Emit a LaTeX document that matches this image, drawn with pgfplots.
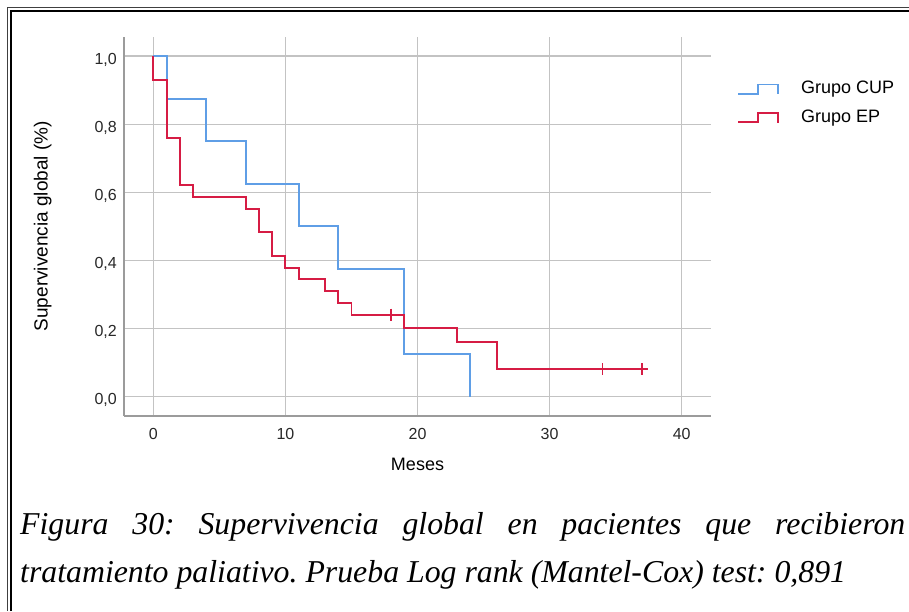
\documentclass[border=0pt]{standalone}
\usepackage{pgfplots}
\pgfplotsset{compat=1.18}
\usepackage{fontspec}
\setmainfont{Liberation Sans}
\newfontfamily\capfont{Liberation Serif}
\definecolor{cupblue}{RGB}{95,158,230}
\definecolor{epred}{RGB}{214,28,68}
\definecolor{gridgray}{RGB}{195,195,195}
\definecolor{axgray}{RGB}{155,155,155}
\definecolor{txtgray}{RGB}{40,40,40}
\begin{document}
\frenchspacing
\begin{tikzpicture}[x=1pt,y=1pt]
\useasboundingbox (0,0) rectangle (909,611);
\fill[white] (0,0) rectangle (909,611);
\draw[line width=1pt, black!75] (7.3,0) -- (7.3,603.7) -- (909,603.7);
\draw[line width=2pt, black] (11,0) -- (11,600) -- (909,600);
\begin{axis}[
  at={(124.3pt,195.3pt)}, anchor=south west,
  scale only axis, width=586.4pt, height=379pt,
  xmin=-2.2, xmax=42.2, ymin=-0.056, ymax=1.057,
  axis lines*=left,
  axis line style={draw=axgray, line width=2pt},
  grid=major, grid style={draw=gridgray, line width=1.4pt},
  major tick length=0pt,
  xtick={0,10,20,30,40}, ytick={0,0.2,0.4,0.6,0.8,1},
  /pgf/number format/assume math mode=true,
  tick label style={font=\fontsize{16}{19}\selectfont, text=txtgray},
  yticklabel style={/pgf/number format/fixed, /pgf/number format/precision=1,
    /pgf/number format/fixed zerofill, /pgf/number format/use comma,
    xshift=-4pt, yshift=-3.5pt},
  xticklabel style={yshift=-9pt},
  every axis x label/.style={at={(axis description cs:0.5,0)}, anchor=center, yshift=-48.3pt, font=\fontsize{18}{21}\selectfont},
  every axis y label/.style={at={(axis description cs:-0.1392,0.5)}, anchor=center, rotate=90, font=\fontsize{19}{22}\selectfont},
  xlabel={Meses},
  ylabel={Supervivencia global (\%)},
  legend style={draw=none, fill=none, at={(1,1)}, anchor=north west, xshift=26.3pt, yshift=-44pt,
    inner sep=0pt, row sep=11.4pt,
    nodes={inner sep=0pt, anchor=base west, text height=13pt, text depth=4pt, font=\fontsize{18}{21}\selectfont},
    /tikz/every odd column/.style={column sep=22pt}},
  legend image code/.code={\draw[#1] (0pt,0pt) -- (20pt,0pt) -- (20pt,9.4pt) -- (40pt,9.4pt) -- (40pt,-0.6pt);},
]
\addplot[const plot, cupblue, line width=1.9pt] coordinates {
(0,1) (1,0.875) (4,0.75) (7,0.625) (11,0.5) (14,0.375) (19,0.125) (24,0)
};
\addlegendentry{Grupo CUP}
\addplot[const plot, epred, line width=1.9pt] coordinates {
(0,1) (0,0.931) (1,0.759) (2,0.621) (3,0.586) (7,0.552) (8,0.483) (9,0.414)
(10,0.379) (11,0.345) (13,0.310) (14,0.276) (15,0.241) (19,0.201) (23,0.161)
(26,0.0805) (37,0.0805)
};
\addlegendentry{Grupo EP}
\addplot[only marks, mark=+, mark size=6pt, epred, line width=1.5pt, forget plot] coordinates {
(18,0.241) (34,0.0805) (37,0.0805)
};
\end{axis}
\node[anchor=base west, inner sep=0pt] at (20,77) {\capfont\itshape\fontsize{31.8}{40}\selectfont\makebox[885pt][s]{Figura 30: Supervivencia global en pacientes que recibieron}};
\node[anchor=base west, inner sep=0pt] at (20,29) {\capfont\itshape\fontsize{31.8}{40}\selectfont tratamiento paliativo. Prueba Log rank (Mantel-Cox) test: 0,891};
\end{tikzpicture}
\end{document}
